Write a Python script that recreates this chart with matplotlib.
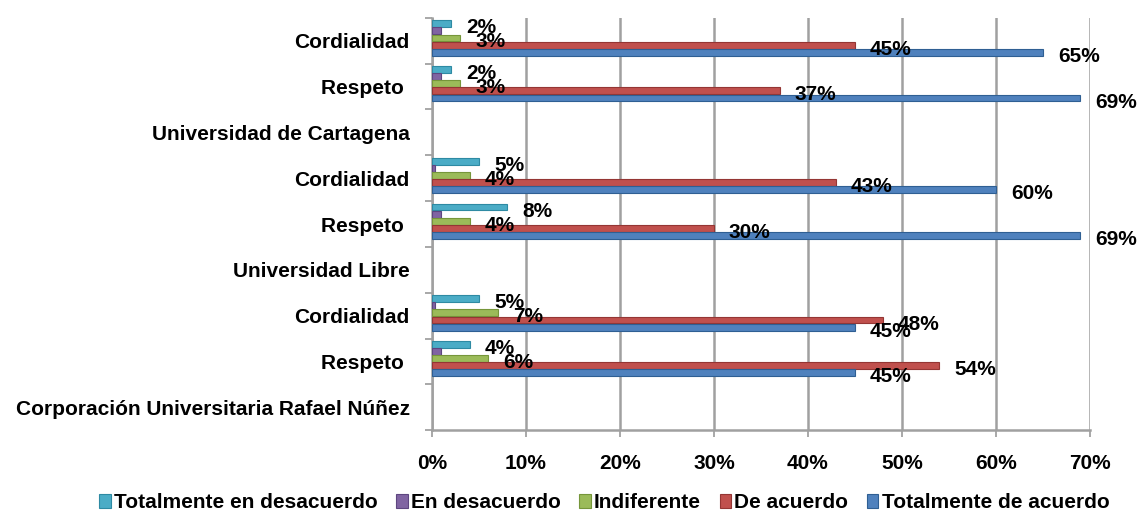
import matplotlib.pyplot as plt
import numpy as np

plt.rcParams['font.family'] = ['Liberation Sans', 'DejaVu Sans']
plt.rcParams['font.weight'] = 'bold'

# Categories from bottom to top
categories = ['Corporación Universitaria Rafael Núñez', 'Respeto ', 'Cordialidad',
              'Universidad Libre', 'Respeto ', 'Cordialidad',
              'Universidad de Cartagena', 'Respeto ', 'Cordialidad']

# Values per series (percent), same order as categories; None = empty header row
tot_desacuerdo = [None, 4, 5, None, 8, 5, None, 2, 2]
en_desacuerdo = [None, 1, 0.3, None, 1, 0.3, None, 1, 1]
indiferente = [None, 6, 7, None, 4, 4, None, 3, 3]
de_acuerdo = [None, 54, 48, None, 30, 43, None, 37, 45]
tot_acuerdo = [None, 45, 45, None, 69, 60, None, 69, 65]

series_names = ['Totalmente en desacuerdo', 'En desacuerdo', 'Indiferente',
                'De acuerdo', 'Totalmente de acuerdo']
series_values = [tot_desacuerdo, en_desacuerdo, indiferente, de_acuerdo, tot_acuerdo]
series_labelled = [True, False, True, True, True]
colors = ['#4BACC6', '#8064A2', '#9BBB59', '#C0504D', '#4F81BD']
edges = ['#2E8AA3', '#5E4680', '#76963A', '#943634', '#2F5F93']
offsets = [0.37, 0.215, 0.06, -0.095, -0.25]

fig = plt.figure(figsize=(11.4, 5.24), dpi=100)
ax = fig.add_axes([0.379, 0.179, 0.577, 0.787])

y = np.arange(len(categories))
for name, vals, lab, c, ec, off in zip(series_names, series_values, series_labelled,
                                       colors, edges, offsets):
    idx = [i for i, v in enumerate(vals) if v is not None]
    v = [vals[i] for i in idx]
    ax.barh(y[idx] + off, v, height=0.15, color=c, edgecolor=ec, linewidth=0.8,
            label=name, zorder=3)
    if lab:
        for i, val in zip(idx, v):
            ax.annotate(f'{val:.0f}%', (val, y[i] + off), xytext=(15, -4),
                        textcoords='offset pixels', ha='left', va='center',
                        fontsize=15, fontweight='bold', annotation_clip=False,
                        zorder=5)

ax.set_xlim(0, 70)
ax.set_ylim(-0.5, len(categories) - 0.5)
ax.set_xticks(np.arange(0, 71, 10))
ax.set_xticklabels([f'{t}%' for t in range(0, 71, 10)], fontsize=15, fontweight='bold')
ax.set_yticks(y)
ax.set_yticklabels(categories, fontsize=15, fontweight='bold')
ax.set_yticks(np.arange(-0.5, len(categories), 1), minor=True)
ax.tick_params(axis='y', which='major', length=0, pad=16)
ax.tick_params(axis='y', which='minor', length=5, color='#999999', width=1.2)
ax.tick_params(axis='x', length=5, color='#999999', width=1.2, pad=12)

ax.grid(axis='x', color='#A0A0A0', linewidth=1.8, zorder=0)
for s in ['top', 'right']:
    ax.spines[s].set_visible(False)
for s in ['left', 'bottom']:
    ax.spines[s].set_color('#A0A0A0')
    ax.spines[s].set_linewidth(1.8)

handles, labels = ax.get_legend_handles_labels()
fig.legend(handles, labels, loc='lower center', ncol=5, bbox_to_anchor=(0.53, -0.013),
           frameon=False, handlelength=0.55, handleheight=0.65,
           handletextpad=0.15, columnspacing=0.9, prop={'weight': 'bold', 'size': 15})

fig.savefig('out.png', dpi=100)
